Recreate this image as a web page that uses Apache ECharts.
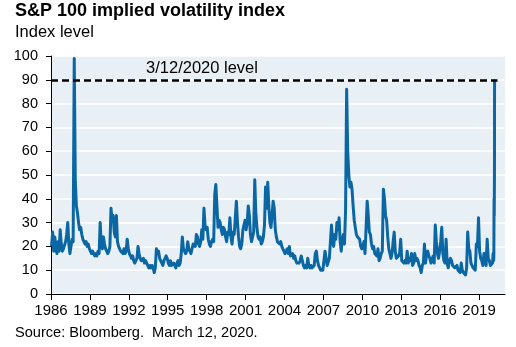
<!DOCTYPE html>
<html>
<head>
<meta charset="utf-8">
<script src="https://cdn.jsdelivr.net/npm/echarts@6/dist/echarts.min.js"></script>
<style>
  html, body { margin: 0; padding: 0; background: #ffffff; }
  #chart { width: 516px; height: 347px; }
</style>
</head>
<body>
<div id="chart"></div>
<script>
// Text
const titleText = 'S&P 100 implied volatility index';
const unitText = 'Index level';
const sourceText = 'Source: Bloomberg.  March 12, 2020.';
const refLabel = '3/12/2020 level';

// Axis ticks
const xTickYears = [1986, 1989, 1992, 1995, 1998, 2001, 2004, 2007, 2010, 2013, 2016, 2019];
const yTicks = [0, 10, 20, 30, 40, 50, 60, 70, 80, 90, 100];

// Reference level (close on 3/12/2020)
const refLevel = 90;

// VXO monthly readings, Jan..Dec of each year
const v1986 = [20, 26, 18, 24, 19, 17, 22, 18, 27, 21, 18, 19];
const v1987 = [19, 22, 25, 30, 21, 17, 20, 23, 22, 99, 47, 37];
const v1988 = [34, 30, 27, 28, 25, 23, 22, 21, 22, 20, 21, 19];
const v1989 = [18, 17, 18, 17, 16, 17, 16, 18, 17, 30, 20, 19];
const v1990 = [24, 21, 19, 18, 17, 18, 20, 36, 31, 33, 26, 24];
const v1991 = [33, 22, 20, 19, 18, 18, 17, 19, 17, 18, 23, 19];
const v1992 = [17, 16, 15, 16, 14, 13, 14, 15, 20, 17, 15, 14];
const v1993 = [14, 15, 13, 14, 13, 12, 11, 12, 11, 12, 11, 9];
const v1994 = [11, 19, 17, 18, 15, 14, 13, 12, 14, 15, 16, 15];
const v1995 = [13, 12, 14, 12, 12, 13, 12, 11, 13, 14, 12, 13];
const v1996 = [17, 24, 19, 18, 17, 18, 22, 19, 18, 17, 19, 21];
const v1997 = [21, 20, 25, 24, 21, 20, 22, 27, 23, 36, 29, 27];
const v1998 = [28, 23, 21, 20, 22, 23, 22, 42, 46, 37, 28, 31];
const v1999 = [30, 27, 25, 28, 27, 24, 22, 26, 25, 32, 24, 21];
const v2000 = [26, 25, 32, 39, 30, 24, 20, 19, 21, 27, 29, 31];
const v2001 = [27, 30, 37, 33, 25, 22, 24, 26, 48, 34, 28, 24];
const v2002 = [23, 24, 21, 22, 24, 29, 45, 36, 47, 37, 30, 28];
const v2003 = [33, 39, 36, 27, 24, 22, 22, 21, 22, 20, 19, 18];
const v2004 = [17, 17, 19, 17, 20, 16, 16, 17, 15, 16, 14, 13];
const v2005 = [13, 13, 14, 16, 14, 12, 11, 12, 11, 15, 12, 11];
const v2006 = [12, 11, 11, 12, 17, 18, 14, 12, 11, 10, 10, 10];
const v2007 = [10, 18, 15, 12, 12, 15, 22, 29, 22, 20, 25, 23];
const v2008 = [30, 27, 32, 22, 18, 23, 25, 21, 35, 86, 60, 50];
const v2009 = [45, 47, 44, 37, 31, 28, 25, 24, 24, 23, 20, 19];
const v2010 = [20, 22, 17, 17, 39, 33, 26, 25, 21, 19, 20, 17];
const v2011 = [17, 16, 19, 14, 15, 17, 18, 44, 40, 33, 31, 24];
const v2012 = [19, 17, 15, 17, 22, 26, 18, 15, 15, 16, 17, 23];
const v2013 = [14, 14, 13, 14, 13, 18, 13, 15, 14, 17, 12, 13];
const v2014 = [17, 14, 15, 14, 12, 11, 9, 12, 13, 21, 13, 17];
const v2015 = [18, 16, 15, 13, 13, 16, 13, 29, 22, 17, 15, 18];
const v2016 = [22, 28, 17, 14, 13, 23, 13, 11, 14, 15, 14, 12];
const v2017 = [12, 11, 11, 12, 10, 10, 9, 13, 10, 9, 9, 8];
const v2018 = [11, 26, 19, 18, 13, 12, 11, 11, 10, 21, 20, 32];
const v2019 = [18, 15, 14, 12, 17, 14, 12, 23, 15, 14, 12, 12];

// 2020 readings up to 3/12/2020
const dates2020 = ['2020-01-15', '2020-01-31', '2020-02-14', '2020-02-21', '2020-02-27', '2020-03-03', '2020-03-09', '2020-03-12'];
const v2020 = [13, 17, 14, 16, 40, 33, 50, 90];

const monthlyYears = [1986, 1987, 1988, 1989, 1990, 1991, 1992, 1993, 1994, 1995, 1996, 1997, 1998,
  1999, 2000, 2001, 2002, 2003, 2004, 2005, 2006, 2007, 2008, 2009, 2010, 2011, 2012, 2013, 2014,
  2015, 2016, 2017, 2018, 2019];
const monthlyValues = [v1986, v1987, v1988, v1989, v1990, v1991, v1992, v1993, v1994, v1995, v1996,
  v1997, v1998, v1999, v2000, v2001, v2002, v2003, v2004, v2005, v2006, v2007, v2008, v2009, v2010,
  v2011, v2012, v2013, v2014, v2015, v2016, v2017, v2018, v2019];

// Convert a date string to a fractional year
function toYearFraction(s) {
  const d = new Date(s + 'T12:00:00Z');
  const y = d.getUTCFullYear();
  const start = Date.UTC(y, 0, 1);
  const end = Date.UTC(y + 1, 0, 1);
  return y + (d.getTime() - start) / (end - start);
}

const seriesData = [];
monthlyYears.forEach(function (yr, i) {
  monthlyValues[i].forEach(function (v, m) {
    seriesData.push([yr + (m + 0.5) / 12, v]);
  });
});
dates2020.forEach(function (d, i) {
  seriesData.push([toYearFraction(d), v2020[i]]);
});

const FONT = 'Arial, "Liberation Sans", Helvetica, sans-serif';
const chart = echarts.init(document.getElementById('chart'), null, { renderer: 'canvas' });

const baseGraphics = [
  {
    type: 'text', left: 15, top: 2,
    style: { text: titleText, fill: '#000', font: 'bold 18px ' + FONT }
  },
  {
    type: 'text', left: 15, top: 24,
    style: { text: unitText, fill: '#000', font: '16.5px ' + FONT }
  },
  {
    type: 'text', left: 15, top: 325,
    style: { text: sourceText, fill: '#000', font: '14.6px ' + FONT }
  }
];

const option = {
  animation: false,
  backgroundColor: '#ffffff',
  grid: {
    left: 51, right: 11, top: 56, bottom: 53,
    show: true, backgroundColor: '#e9f0f5', borderWidth: 0
  },
  xAxis: {
    type: 'value',
    min: 1986,
    max: 2021,
    interval: 3,
    axisLine: { show: true, onZero: false, lineStyle: { color: '#000', width: 1 } },
    axisTick: { show: true, length: 6, customValues: xTickYears, lineStyle: { color: '#000' } },
    axisLabel: {
      customValues: xTickYears,
      margin: 9,
      color: '#000',
      fontFamily: FONT,
      fontSize: 15,
      formatter: function (v) { return String(Math.round(v)); }
    },
    splitLine: { show: false }
  },
  yAxis: {
    type: 'value',
    min: 0,
    max: 100,
    interval: 10,
    axisLine: { show: true, lineStyle: { color: '#000', width: 1 } },
    axisTick: { show: true, length: 5, lineStyle: { color: '#000' } },
    axisLabel: {
      margin: 13,
      color: '#000',
      fontFamily: FONT,
      fontSize: 14.5,
      formatter: function (v) { return yTicks.indexOf(v) >= 0 ? String(v) : ''; }
    },
    splitLine: { show: true, lineStyle: { color: '#ffffff', width: 1.5 } }
  },
  series: [
    {
      type: 'line',
      data: seriesData,
      showSymbol: false,
      symbol: 'none',
      clip: true,
      lineStyle: { color: '#0a67a3', width: 3, join: 'round' },
      z: 2,
      markLine: {
        silent: true,
        symbol: ['none', 'none'],
        label: { show: false },
        lineStyle: { color: '#000', width: 2.5, type: [7, 4] },
        data: [[{ coord: [1986, refLevel] }, { coord: [2020.42, refLevel] }]],
        z: 3
      }
    }
  ],
  graphic: baseGraphics
};
chart.setOption(option);

// Place the reference-level caption just above the dashed line
const labelPos = chart.convertToPixel({ gridIndex: 0 }, [1997.64, refLevel]);
chart.setOption({
  graphic: baseGraphics.concat([
    {
      type: 'text', x: labelPos[0], y: labelPos[1] - 11,
      style: { text: refLabel, fill: '#000', font: '16.5px ' + FONT, align: 'center', verticalAlign: 'middle' }
    }
  ])
}, { replaceMerge: ['graphic'] });
</script>
</body>
</html>
